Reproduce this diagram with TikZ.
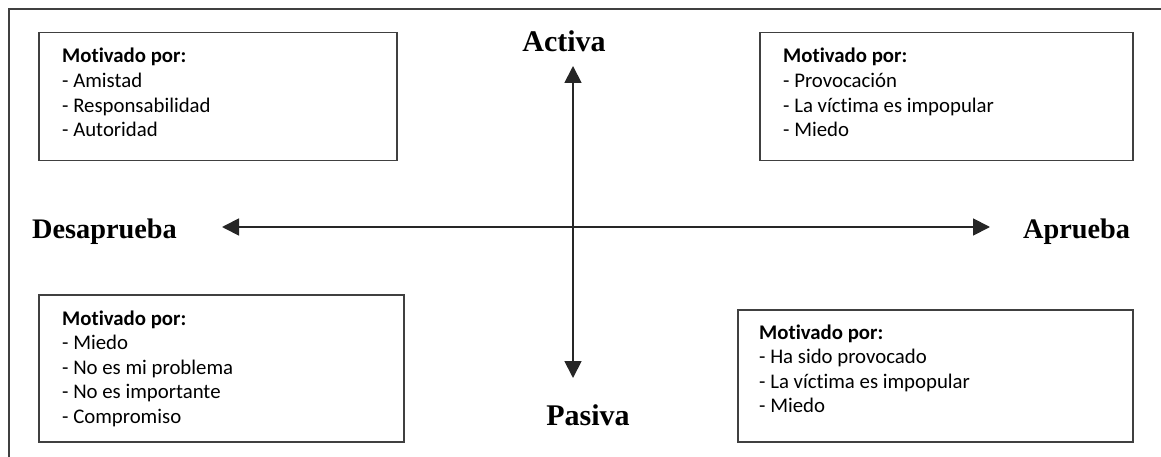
\documentclass[tikz,border=0pt]{standalone}
\usepackage{fontspec}
\setmainfont{Carlito}[Ligatures=NoCommon]
\newfontfamily\axisfont{Liberation Serif}
\usetikzlibrary{arrows.meta}
\tikzset{
  frameline/.style={draw=black!75, line width=1.5pt},
  qbox/.style={draw=black!75, line width=1.5pt, inner sep=0pt, anchor=north west},
  qtext/.style={inner sep=0pt, anchor=base west, font=\fontsize{20.8}{24.6}\selectfont, text=black},
  axislabel/.style={inner sep=0pt, font=\axisfont\bfseries\fontsize{30}{34}\selectfont, text=black},
  sidelabel/.style={inner sep=0pt, font=\axisfont\bfseries\fontsize{28.3}{32}\selectfont, text=black},
  axisarrow/.style={draw=black!85, line width=1.8pt, {Triangle[width=17pt,length=17pt]}-{Triangle[width=17pt,length=17pt]}}
}
\begin{document}
\begin{tikzpicture}[x=1pt,y=-1pt]
\useasboundingbox (0,0) rectangle (1161,457);
% outer frame (left and top edges visible)
\coordinate (fb) at (9,457);
\coordinate (fc) at (9,9);
\coordinate (fr) at (1161,9);
\draw[frameline] (fb) -- (fc) -- (fr);
% quadrant boxes
\node[qbox, minimum width=358pt, minimum height=128pt] (tl) at (38,32) {};
\node[qbox, minimum width=373pt, minimum height=128pt] (tr) at (759,32) {};
\node[qbox, minimum width=365pt, minimum height=147pt] (bl) at (38,294) {};
\node[qbox, minimum width=395pt, minimum height=132pt] (br) at (737,309) {};
% box texts
\node[qtext] (tltext) at (62,63) {\begin{tabular}[t]{@{}l@{}}\textbf{Motivado por:}\\- Amistad\\- Responsabilidad\\- Autoridad\end{tabular}};
\node[qtext] (trtext) at (783,63) {\begin{tabular}[t]{@{}l@{}}\textbf{Motivado por:}\\- Provocación\\- La víctima es impopular\\- Miedo\end{tabular}};
\node[qtext] (bltext) at (62,325) {\begin{tabular}[t]{@{}l@{}}\textbf{Motivado por:}\\- Miedo\\- No es mi problema\\- No es importante\\- Compromiso\end{tabular}};
\node[qtext] (brtext) at (759,339) {\begin{tabular}[t]{@{}l@{}}\textbf{Motivado por:}\\- Ha sido provocado\\- La víctima es impopular\\- Miedo\end{tabular}};
% axes
\coordinate (up) at (573,66);
\coordinate (down) at (573,378);
\coordinate (left) at (222,227);
\coordinate (right) at (990,227);
\draw[axisarrow] (down) -- (up);
\draw[axisarrow] (left) -- (right);
% axis labels
\node[axislabel, anchor=base] (activa) at (564,52) {Activa};
\node[axislabel, anchor=base] (pasiva) at (588,425) {Pasiva};
\node[sidelabel, anchor=base west] (desaprueba) at (32,238) {Desaprueba};
\node[sidelabel, anchor=base west] (aprueba) at (1023,238) {Aprueba};
\end{tikzpicture}
\end{document}
